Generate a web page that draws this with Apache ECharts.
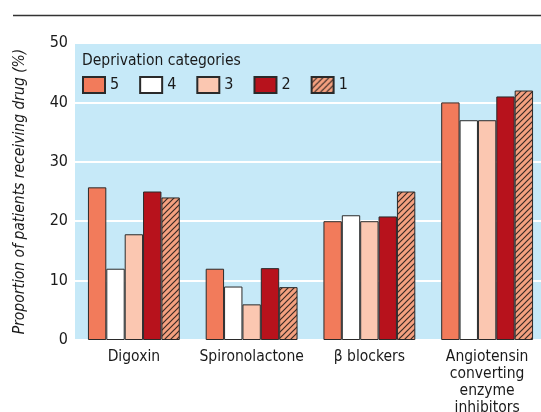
<!DOCTYPE html>
<html><head><meta charset="utf-8">
<script src="https://cdn.jsdelivr.net/npm/echarts@6/dist/echarts.min.js"></script>
<style>html,body{margin:0;padding:0;background:#fff}#c{width:541px;height:412px}</style>
</head><body><div id="c"></div>
<script>
const categories = ['Digoxin', 'Spironolactone', 'β blockers', 'Angiotensin\nconverting\nenzyme\ninhibitors'];
const seriesNames = ['5', '4', '3', '2', '1'];
const cat5 = [25.7, 12, 20, 40];
const cat4 = [12, 9, 21, 37];
const cat3 = [17.8, 6, 20, 37];
const cat2 = [25, 12.1, 20.8, 41];
const cat1 = [24, 8.9, 25, 42];
const yTicks = [0, 10, 20, 30, 40, 50];

const FONT = '"DejaVu Sans Condensed", "Liberation Sans Narrow", "Liberation Sans", Arial, sans-serif';

// hatch pattern
const pc = document.createElement('canvas');
pc.width = 6; pc.height = 6;
const g = pc.getContext('2d');
g.fillStyle = '#F4A07F'; g.fillRect(0, 0, 6, 6);
g.strokeStyle = '#3a2a25'; g.lineWidth = 1.2;
g.beginPath();
g.moveTo(-1, 7); g.lineTo(7, -1);
g.moveTo(-4, 4); g.lineTo(4, -4);
g.moveTo(2, 10); g.lineTo(10, 2);
g.stroke();
const hatch = { image: pc, repeat: 'repeat' };

const colors = ['#F27B5B', '#FFFFFF', '#FBC7B1', '#B7121C', hatch];
const data = [cat5, cat4, cat3, cat2, cat1];

const chart = echarts.init(document.getElementById('c'), null, { renderer: 'canvas' });
chart.setOption({
  animation: false,
  backgroundColor: '#fff',
  title: {
    text: 'Deprivation categories', left: 77, top: 48,
    textStyle: { fontFamily: FONT, fontSize: 15.5, fontWeight: 'normal', color: '#1a1a1a' }
  },
  legend: {
    left: 77, top: 71, itemWidth: 22, itemHeight: 16, itemGap: 20,
    icon: 'rect',
    textStyle: { fontFamily: FONT, fontSize: 16, color: '#1a1a1a' },
    data: seriesNames
  },
  grid: { left: 75, right: -5, top: 43, bottom: 72, containLabel: false, outerBoundsMode: 'none' },
  graphic: [
    { type: 'line', shape: { x1: 13, y1: 15.5, x2: 541, y2: 15.5 }, style: { stroke: '#333', lineWidth: 1.5 } }
  ],
  xAxis: {
    type: 'category', data: categories,
    axisLine: { show: false }, axisTick: { show: false },
    axisLabel: { fontFamily: FONT, fontSize: 15.5, color: '#1a1a1a', lineHeight: 17, margin: 8, interval: 0 }
  },
  yAxis: {
    type: 'value', min: 0, max: 50, interval: 10,
    name: 'Proportion of patients receiving drug (%)',
    nameLocation: 'middle', nameGap: 47,
    nameTextStyle: { fontFamily: FONT, fontSize: 15.5, fontStyle: 'italic', color: '#1a1a1a' },
    axisLine: { show: false }, axisTick: { show: false },
    axisLabel: { fontFamily: FONT, fontSize: 16, color: '#1a1a1a', margin: 7 },
    splitLine: { show: true, lineStyle: { color: '#ffffff', width: 2 } },
    splitArea: { show: true, areaStyle: { color: ['#C6E9F8', '#C6E9F8'] } }
  },
  series: seriesNames.map((n, i) => ({
    name: n, type: 'bar', data: data[i],
    barGap: '0%', barCategoryGap: '22%',
    itemStyle: { color: colors[i], borderColor: '#2a2a2a', borderWidth: 1 }
  }))
});
</script></body></html>
